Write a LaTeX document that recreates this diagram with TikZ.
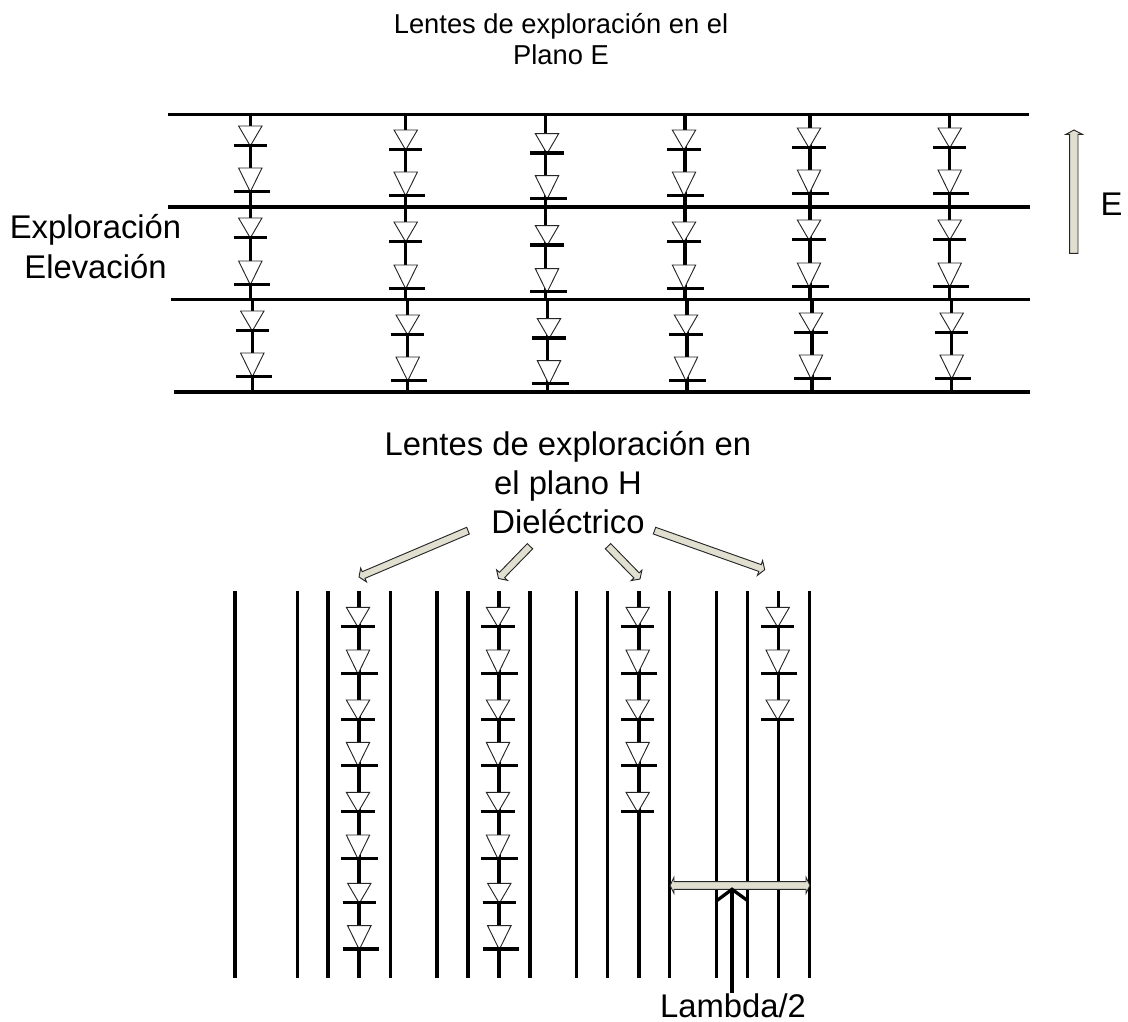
\documentclass[tikz,border=0pt]{standalone}
\usepackage{fontspec}
\setmainfont{Liberation Sans}
\tikzset{
    hilo/.style={line width=2.45pt,line cap=butt},
    barra/.style={line width=2.45pt},
    diodo/.style={draw=black!85,fill=white,line width=0.7pt,line join=miter},
    flecha/.style={draw=black!85,fill=olive!25!gray!28,line width=0.7pt,line join=miter},
    chico/.style={font=\fontsize{20.5}{23.8}\selectfont,align=center,inner sep=0pt},
    grande/.style={font=\fontsize{24.6}{29.3}\selectfont,align=center,inner sep=0pt}
}
% #1 centro x, #2 arriba, #3 = 1 para el diodo largo
\newcommand{\Diodo}[3]{
    \filldraw[diodo] ({#1-11.7},{#2}) -- ({#1+11.7},{#2}) -- ({#1},{#2+20+3.9*#3}) -- cycle;
    \draw[barra] ({#1-16.7},{#2+19.3+3.9*#3}) -- ({#1+16.7+2.8*#3},{#2+19.3+3.9*#3});
}
\begin{document}
\begin{tikzpicture}[x=0.75pt,y=-0.75pt]
        \useasboundingbox (0,0) rectangle (1128,1021);
        % Textos
            \node[chico] (planoE) at (561,39) {Lentes de exploración en el\\Plano E};
            \node[grande] (exploracion) at (95.5,246.5) {Exploración\\[0.75pt]Elevación};
            \node[grande] (campoE) at (1111.5,204.5) {E};
            \node[grande] (planoH) at (568,482.5) {Lentes de exploración en\\el plano H\\Dieléctrico};
            \node[grande] (lambda) at (733,1005.5) {Lambda/2};
        % Plano E: columnas
            \foreach \xa/\dy/\dt in {250.3/0/0,405.7/4/0,545.7/7.6/1.3,685/4/-1,810/2/-1,949.7/2/0}{
                \draw[hilo] (\xa,114.7) -- (\xa,299.3);
                \draw[hilo] ({\xa+2},299.3) -- ({\xa+2},392);
                \foreach \yt/\lg in {126/0,168/1,218/0,261/1}{\Diodo{\xa+\dt}{\yt+\dy}{\lg}}
                \foreach \yt/\lg in {311/0,353/1}{\Diodo{\xa+2+\dt}{\yt+\dy}{\lg}}
            }
        % Plano E: hilos
            \draw[hilo](168,114.7) -- (1029,114.7);
            \draw[hilo](168,207) -- (1030,207);
            \draw[hilo](171,299.3) -- (1030,299.3);
            \draw[hilo](174,392) -- (1030,392);
        % Flecha E
            \filldraw[flecha](1069.7,253.3) -- (1069.7,134.3) -- (1066,134.3) -- (1074,130) -- (1082.3,134.3) -- (1078,134.3) -- (1078,253.3) -- cycle;
        % Plano H: hilos
            \foreach \xa in {235,297.3,328,359,390.3,437,468,499,530,576.7,607.7,639,669.7,716.3,747.7,778.7,809.7}
                \draw[hilo](\xa,591) -- (\xa,978);
        % Plano H: diodos
            \foreach \yt/\lg in {607.3/0,650/1,700/0,742.3/1,792.3/0,835/1}{
                \Diodo{358}{\yt}{\lg}
                \Diodo{498}{\yt}{\lg}
            }
            \foreach \yt/\lg in {883.3/0,925.7/1}{
                \Diodo{359.3}{\yt}{\lg}
                \Diodo{499.3}{\yt}{\lg}
            }
            \foreach \yt/\lg in {607.3/0,650/1,700/0,742.3/1,792.3/0}
                \Diodo{637.7}{\yt}{\lg};
            \foreach \yt/\lg in {607.3/0,650/1,700/0}
                \Diodo{777.7}{\yt}{\lg};
        % Flechas dieléctrico
            \filldraw[flecha](466.7,527.3) -- (469.3,534) -- (365,578.3) -- (366.5,581.9) -- (359,577) -- (360.7,568.1) -- (362.2,571.7) -- cycle;
            \filldraw[flecha](527.3,543.6) -- (532.7,548.8) -- (504.6,577.6) -- (507.4,580.3) -- (498.5,578.5) -- (496.6,569.8) -- (499.4,572.4) -- cycle;
            \filldraw[flecha](610.7,543.6) -- (605.3,548.8) -- (633.9,578) -- (631.1,580.6) -- (640,579) -- (641.9,570.2) -- (639.1,572.8) -- cycle;
            \filldraw[flecha](655.7,527.3) -- (653.3,534) -- (758.8,571.4) -- (757.4,575.4) -- (764.7,569.7) -- (762.6,560.6) -- (761.2,564.6) -- cycle;
        % Flecha Lambda/2
            \filldraw[flecha](670,885.5) -- (674,877.3) -- (674,881.7) -- (806,881.7) -- (806,877.3) -- (810,885.5) -- (806,893.3) -- (806,889.3) -- (674,889.3) -- (674,893.3) -- cycle;
            \coordinate (puntaL) at (732,889.3);
            \coordinate (pieL) at (732,993);
            \draw[hilo](716.7,900.7) -- (puntaL) -- (747.7,900.7);
            \draw[hilo](puntaL) -- (pieL);
     \end{tikzpicture}
\end{document}
